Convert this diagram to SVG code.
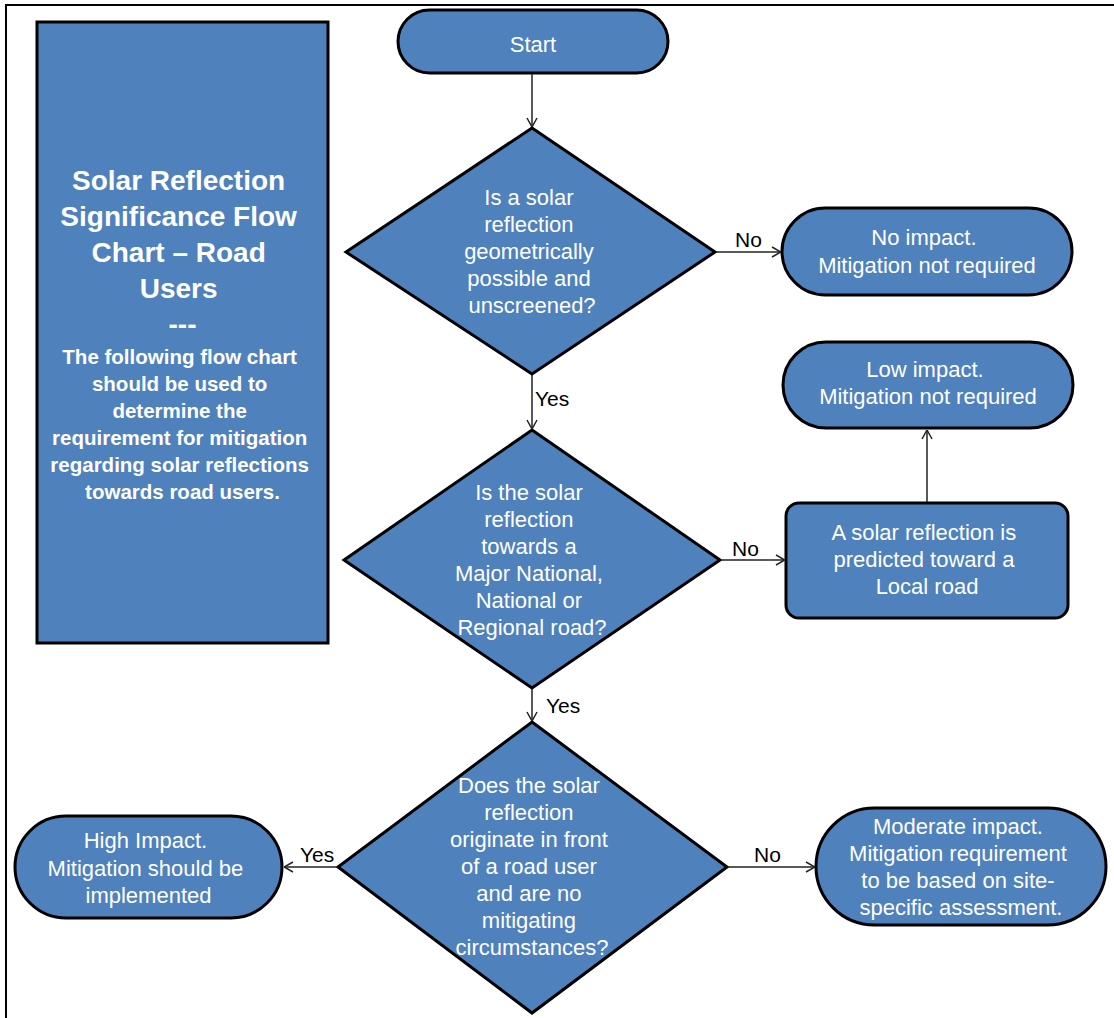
<svg xmlns="http://www.w3.org/2000/svg" width="1114" height="1018" viewBox="0 0 1114 1018">
<style>
.shape{fill:#4F81BD;stroke:#000;stroke-width:3}
.t{font-family:"Liberation Sans",Arial,sans-serif;font-size:22px;fill:#fff;text-anchor:middle}
.title{font-family:"Liberation Sans",Arial,sans-serif;font-weight:bold;fill:#fff;text-anchor:middle}
.lbl{font-family:"Liberation Sans",Arial,sans-serif;font-size:21px;fill:#000}
.c{fill:none;stroke:#222;stroke-width:1.5}
</style>
<defs>
<marker id="arr" viewBox="0 0 10 12" refX="10" refY="6" markerWidth="10" markerHeight="12" markerUnits="userSpaceOnUse" orient="auto">
<path d="M1,1 L10,6 L1,11" fill="none" stroke="#222" stroke-width="1.5"/>
</marker>
</defs>
<rect width="1114" height="1018" fill="#fff"/>
<path d="M6,1018 V5 H1114" fill="none" stroke="#000" stroke-width="2"/>

<g id="title-box">
<rect class="shape" x="37" y="22" width="291" height="621" stroke-width="3.5"/>
<text class="title" font-size="28">
<tspan x="182.5" y="190">Solar Reflection</tspan>
<tspan x="182.5" y="226">Significance Flow</tspan>
<tspan x="182.5" y="262">Chart – Road</tspan>
<tspan x="182.5" y="298">Users</tspan>
<tspan x="182.5" y="334">---</tspan>
</text>
<text class="title" font-size="20.5">
<tspan x="182.5" y="364">The following flow chart</tspan>
<tspan x="182.5" y="391">should be used to</tspan>
<tspan x="182.5" y="418">determine the</tspan>
<tspan x="182.5" y="445">requirement for mitigation</tspan>
<tspan x="182.5" y="472">regarding solar reflections</tspan>
<tspan x="182.5" y="499">towards road users.</tspan>
</text>
</g>

<g id="start">
<rect class="shape" x="398" y="10" width="270" height="63" rx="31.5"/>
<text class="t" font-size="25" x="533" y="52">Start</text>
</g>

<g id="d1">
<polygon class="shape" points="532,128 715,252 532,374 346,252"/>
<text class="t">
<tspan x="532" y="205">Is a solar</tspan>
<tspan x="532" y="232">reflection</tspan>
<tspan x="532" y="259">geometrically</tspan>
<tspan x="532" y="286">possible and</tspan>
<tspan x="532" y="313">unscreened?</tspan>
</text>
</g>

<g id="no-impact">
<rect class="shape" x="782" y="208" width="290" height="87" rx="43.5"/>
<text class="t">
<tspan x="927" y="245">No impact.</tspan>
<tspan x="927" y="273">Mitigation not required</tspan>
</text>
</g>

<g id="low-impact">
<rect class="shape" x="783" y="342" width="290" height="86" rx="43"/>
<text class="t">
<tspan x="928" y="377">Low impact.</tspan>
<tspan x="928" y="404">Mitigation not required</tspan>
</text>
</g>

<g id="local-road">
<rect class="shape" x="786" y="503" width="282" height="115" rx="13"/>
<text class="t">
<tspan x="927" y="540">A solar reflection is</tspan>
<tspan x="927" y="567">predicted toward a</tspan>
<tspan x="927" y="594">Local road</tspan>
</text>
</g>

<g id="d2">
<polygon class="shape" points="532,430 720,560 532,688 344,560"/>
<text class="t">
<tspan x="532" y="500">Is the solar</tspan>
<tspan x="532" y="527">reflection</tspan>
<tspan x="532" y="554">towards a</tspan>
<tspan x="532" y="581">Major National,</tspan>
<tspan x="532" y="608">National or</tspan>
<tspan x="532" y="635">Regional road?</tspan>
</text>
</g>

<g id="d3">
<polygon class="shape" points="532,722 727,867 532,1013 338,867"/>
<text class="t">
<tspan x="532" y="793">Does the solar</tspan>
<tspan x="532" y="820">reflection</tspan>
<tspan x="532" y="847">originate in front</tspan>
<tspan x="532" y="874">of a road user</tspan>
<tspan x="532" y="901">and are no</tspan>
<tspan x="532" y="928">mitigating</tspan>
<tspan x="532" y="955">circumstances?</tspan>
</text>
</g>

<g id="high-impact">
<rect class="shape" x="15" y="816" width="267" height="102" rx="51"/>
<text class="t">
<tspan x="148.5" y="848">High Impact.</tspan>
<tspan x="148.5" y="876">Mitigation should be</tspan>
<tspan x="148.5" y="903">implemented</tspan>
</text>
</g>

<g id="moderate-impact">
<rect class="shape" x="816" y="808" width="290" height="117" rx="58.5"/>
<text class="t">
<tspan x="961" y="834">Moderate impact.</tspan>
<tspan x="961" y="861">Mitigation requirement</tspan>
<tspan x="961" y="888">to be based on site-</tspan>
<tspan x="961" y="915">specific assessment.</tspan>
</text>
</g>

<g id="connectors">
<line class="c" x1="532" y1="74" x2="532" y2="127" marker-end="url(#arr)"/>
<line class="c" x1="716" y1="252" x2="781" y2="252" marker-end="url(#arr)"/>
<line class="c" x1="532" y1="375" x2="532" y2="429" marker-end="url(#arr)"/>
<line class="c" x1="721" y1="560" x2="785" y2="560" marker-end="url(#arr)"/>
<line class="c" x1="927" y1="502" x2="927" y2="430" marker-end="url(#arr)"/>
<line class="c" x1="532" y1="689" x2="532" y2="721" marker-end="url(#arr)"/>
<line class="c" x1="337" y1="867" x2="284" y2="867" marker-end="url(#arr)"/>
<line class="c" x1="728" y1="867" x2="815" y2="867" marker-end="url(#arr)"/>
<text class="lbl" x="735" y="247">No</text>
<text class="lbl" x="535" y="406">Yes</text>
<text class="lbl" x="732" y="556">No</text>
<text class="lbl" x="546" y="713">Yes</text>
<text class="lbl" x="300" y="862">Yes</text>
<text class="lbl" x="754" y="862">No</text>
</g>
</svg>
